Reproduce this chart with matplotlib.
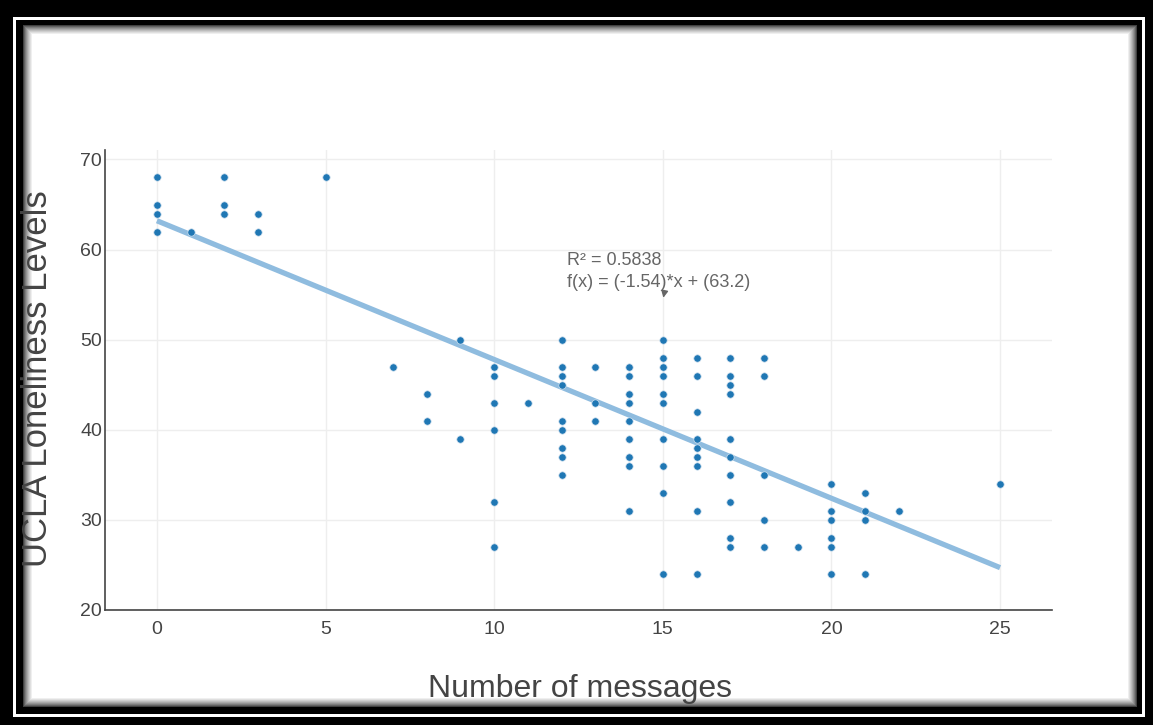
import matplotlib
matplotlib.use("Agg")
import matplotlib.pyplot as plt
from matplotlib.patches import Rectangle

# number of messages (x) and UCLA loneliness score (y), one entry per person
messages = [
    0, 0, 0, 0,
    1,
    2, 2, 2,
    3, 3,
    5,
    7,
    8, 8,
    9, 9,
    10, 10, 10, 10, 10, 10,
    11,
    12, 12, 12, 12, 12, 12, 12, 12, 12,
    13, 13, 13,
    14, 14, 14, 14, 14, 14, 14, 14, 14,
    15, 15, 15, 15, 15, 15, 15, 15, 15, 15,
    16, 16, 16, 16, 16, 16, 16, 16, 16,
    17, 17, 17, 17, 17, 17, 17, 17, 17, 17,
    18, 18, 18, 18, 18,
    19,
    20, 20, 20, 20, 20, 20,
    21, 21, 21, 21,
    22,
    25,
]
loneliness = [
    68, 65, 64, 62,
    62,
    68, 65, 64,
    64, 62,
    68,
    47,
    44, 41,
    50, 39,
    47, 46, 43, 40, 32, 27,
    43,
    50, 47, 46, 45, 41, 40, 38, 37, 35,
    47, 43, 41,
    47, 46, 44, 43, 41, 39, 37, 36, 31,
    50, 48, 47, 46, 44, 43, 39, 36, 33, 24,
    48, 46, 42, 39, 38, 37, 36, 31, 24,
    48, 46, 45, 44, 39, 37, 35, 32, 28, 27,
    48, 46, 35, 30, 27,
    27,
    34, 31, 30, 28, 27, 24,
    33, 31, 30, 24,
    31,
    34,
]

# linear fit as given on the chart
slope = -1.54
intercept = 63.2
r_squared = 0.5838

x_ticks = [0, 5, 10, 15, 20, 25]
y_ticks = [20, 30, 40, 50, 60, 70]

font = ["Liberation Sans", "DejaVu Sans"]

W, H = 1153, 725
fig = plt.figure(figsize=(W / 100, H / 100), dpi=100)
fig.patch.set_facecolor("black")


def box(x0, y0, x1, y1, color):
    # pixel box, measured from the top left corner of the image
    r = Rectangle((x0 / W, 1 - y1 / H), (x1 - x0) / W, (y1 - y0) / H,
                  transform=fig.transFigure, facecolor=color,
                  edgecolor="none", zorder=-10)
    fig.add_artist(r)


# picture frame: black, thin white line, black band, soft inner shadow
box(13, 17, 1145, 717, "white")
box(16, 20, 1142, 714, "black")
steps = 11
for i in range(steps):
    level = (i / (steps - 1)) ** 0.6
    box(22 + i, 24 + i, 1138 - i, 708 - i, (level, level, level))

ax = fig.add_axes([105 / W, 1 - 610 / H, (1052 - 105) / W, (610 - 150) / H])
ax.set_facecolor("white")

fit_x = [min(messages), max(messages)]
fit_y = [slope * v + intercept for v in fit_x]
ax.plot(fit_x, fit_y, color="#8fbcdf", lw=3.8, solid_capstyle="butt", zorder=2)
ax.scatter(messages, loneliness, s=28, color="#1f77b4",
           edgecolors="#cfe0ee", linewidths=0.5, zorder=3)

ax.set_xlim(-1.54, 26.54)
ax.set_ylim(20, 71.05)
ax.set_xticks(x_ticks)
ax.set_yticks(y_ticks)
ax.grid(True, color="#eeeeee", lw=1)
ax.set_axisbelow(True)
ax.tick_params(length=0, labelsize=14, labelcolor="#444444")
ax.tick_params(axis="x", pad=8)
ax.tick_params(axis="y", pad=2)
for lab in ax.get_xticklabels() + ax.get_yticklabels():
    lab.set_family(font)

for side in ["top", "right"]:
    ax.spines[side].set_visible(False)
for side in ["left", "bottom"]:
    ax.spines[side].set_color("#444444")
    ax.spines[side].set_linewidth(1.2)

# regression annotation
ax.text(12.16, 58.3, f"R² = {r_squared}", family=font, fontsize=13,
        color="#666666", va="baseline", ha="left")
ax.text(12.16, 55.85, f"f(x) = ({slope})*x + ({intercept})", family=font,
        fontsize=13, color="#666666", va="baseline", ha="left")
ax.annotate("", xy=(15.0, 54.35), xytext=(15.05, 55.3),
            arrowprops=dict(arrowstyle="-|>", color="#666666", lw=1,
                            mutation_scale=10))

fig.text(580 / W, 1 - 689 / H, "Number of messages", family=font,
         fontsize=23, color="#444444", ha="center", va="center")
fig.text(38 / W, 1 - 379 / H, "UCLA Loneliness Levels", family=font,
         fontsize=25, color="#444444", ha="center", va="center", rotation=90)

fig.savefig("out.png", dpi=100, facecolor=fig.get_facecolor())
